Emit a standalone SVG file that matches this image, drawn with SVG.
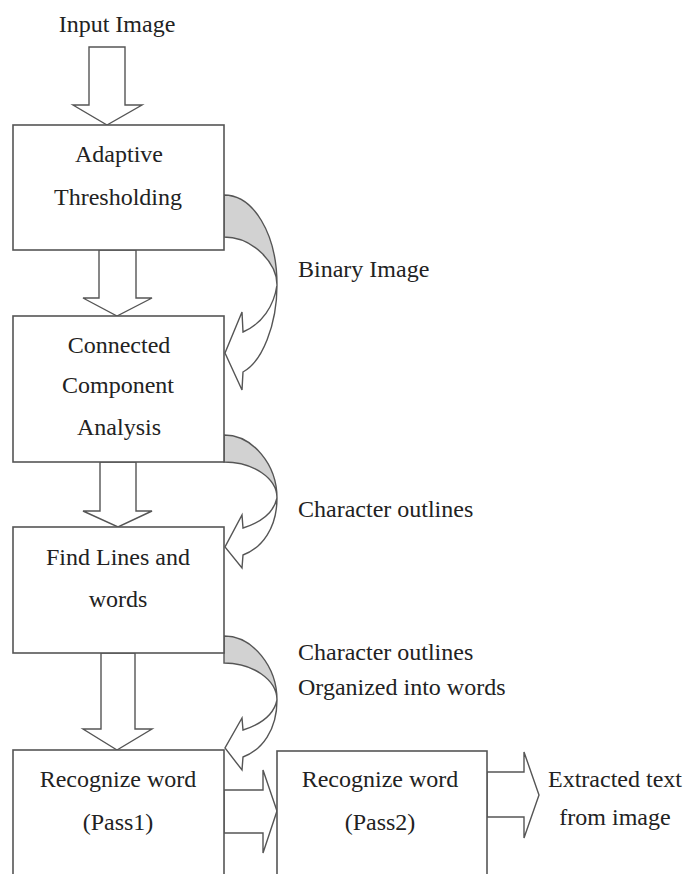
<svg xmlns="http://www.w3.org/2000/svg" width="687" height="874" viewBox="0 0 687 874">
<style>
.box{fill:#fff;stroke:#555;stroke-width:1.6}
.arr{fill:#fff;stroke:#555;stroke-width:1.4;stroke-linejoin:miter}
.shade{fill:#d2d2d2;stroke:#555;stroke-width:1.4}
text{font-family:"Liberation Serif","Times New Roman",serif;font-size:24px;fill:#222}
.c{text-anchor:middle}
</style>
<rect width="687" height="874" fill="#fff"/>
<g id="connectors">
<polygon class="arr" points="89,47 125,47 125,105 142,105 107,125 73,105 89,105"/>
<polygon class="arr" points="99,250 136,250 136,298 152,298 117,316 83,298 99,298"/>
<polygon class="arr" points="100,462 136,462 136,511 152,511 118,527 83,511 100,511"/>
<polygon class="arr" points="101,653 135,653 135,729 152,729 117,750 83,729 101,729"/>
<polygon class="arr" points="224,790 263,790 263,770 277,811 263,853 263,833 224,833"/>
<polygon class="arr" points="487,772 524,772 524,752 539,795 524,838 524,817 487,817"/>
<g id="curve1">
<path class="shade" d="M224,195 C253,195 277,233 277,285 C277,263 253,237 224,237 Z"/>
<path class="arr" d="M277,285 C277,325 262,362 243,372 L242,390 L225,353 L242,312 L243,332 C262,324 274,306 277,285 Z"/>
</g>
<g id="curve2">
<path class="shade" d="M224,435 C253,435 277,465 277,498 C277,478 253,462 224,462 Z"/>
<path class="arr" d="M277,498 C277,528 262,548 243,555 L242,568 L225,547 L242,515 L243,528 C262,522 274,512 277,498 Z"/>
</g>
<g id="curve3">
<path class="shade" d="M224,636 C253,636 277,667 277,700 C277,680 253,663 224,663 Z"/>
<path class="arr" d="M277,700 C277,730 262,750 243,757 L242,770 L225,748 L242,718 L243,730 C262,724 274,714 277,700 Z"/>
</g>
</g>
<g id="n-input"><text class="c" x="117" y="32">Input Image</text></g>
<g id="n-adaptive">
<rect class="box" x="13" y="125" width="211" height="125"/>
<text class="c" x="119" y="162">Adaptive</text>
<text class="c" x="118" y="205">Thresholding</text>
</g>
<g id="n-cca">
<rect class="box" x="13" y="316" width="211" height="146"/>
<text class="c" x="119" y="353">Connected</text>
<text class="c" x="118" y="393">Component</text>
<text class="c" x="119" y="435">Analysis</text>
</g>
<g id="n-find">
<rect class="box" x="13" y="527" width="211" height="126"/>
<text class="c" x="118" y="565">Find Lines and</text>
<text class="c" x="118" y="607">words</text>
</g>
<g id="n-pass1">
<rect class="box" x="13" y="750" width="211" height="140"/>
<text class="c" x="118" y="787">Recognize word</text>
<text class="c" x="118" y="830">(Pass1)</text>
</g>
<g id="n-pass2">
<rect class="box" x="277" y="751" width="210" height="140"/>
<text class="c" x="380" y="787">Recognize word</text>
<text class="c" x="380" y="830">(Pass2)</text>
</g>
<g id="labels">
<text x="298" y="277">Binary Image</text>
<text x="298" y="517">Character outlines</text>
<text x="298" y="660">Character outlines</text>
<text x="298" y="695">Organized into words</text>
<text class="c" x="615" y="787">Extracted text</text>
<text class="c" x="615" y="825">from image</text>
</g>
</svg>
